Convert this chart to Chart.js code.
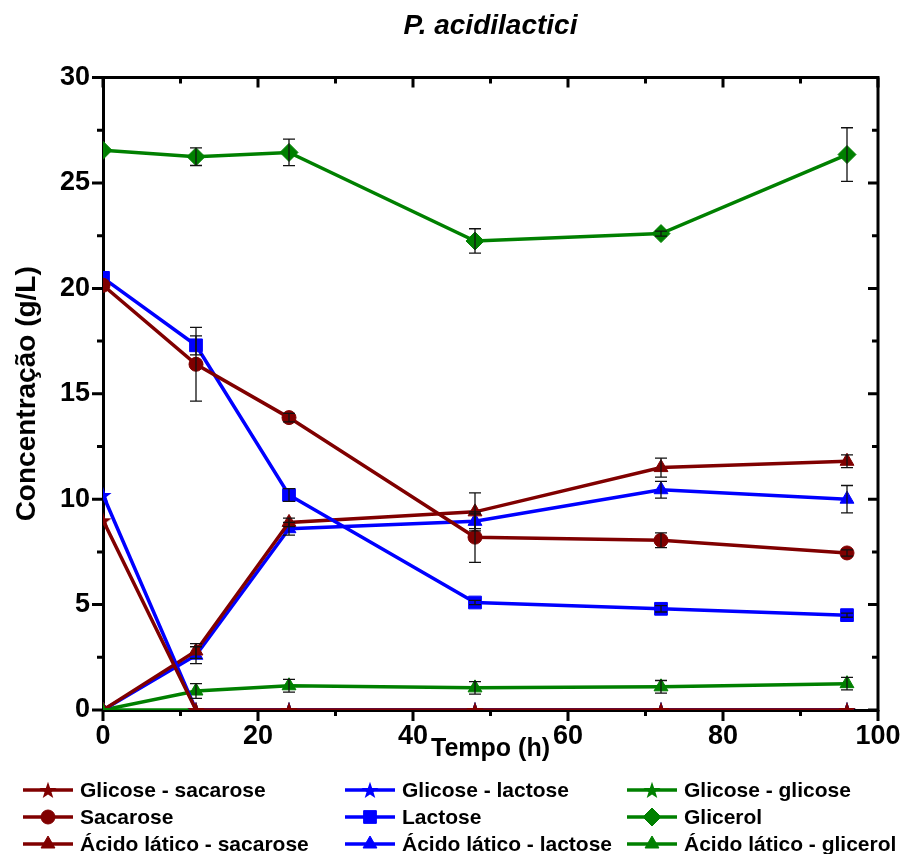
<!DOCTYPE html>
<html>
<head>
<meta charset="utf-8">
<script src="https://cdn.jsdelivr.net/npm/chart.js@4.4.1/dist/chart.umd.min.js"></script>
<style>
  body { margin: 0; background: #fff; }
  #wrap { width: 901px; height: 854px; }
</style>
</head>
<body>
<div id="wrap"><canvas id="chart"></canvas></div>
<script>
// time points (h)
const times = [0, 12, 24, 48, 72, 96];

// concentrations (g/L) and their error bars
const glicoseSacarose = [9.0, 0, 0, 0, 0, 0];
const glicoseLactose = [10.2, 0, 0, 0, 0, 0];
const glicoseGlicose = [0, 0, 0, 0, 0, 0];
const sacarose = [20.15, 16.4, 13.87, 8.2, 8.05, 7.45];
const sacaroseErr = [0, 1.75, 0.2, 1.2, 0.35, 0.15];
const lactose = [20.5, 17.3, 10.2, 5.1, 4.8, 4.5];
const lactoseErr = [0, 0.45, 0.3, 0.1, 0.15, 0.1];
const glicerol = [26.55, 26.25, 26.45, 22.25, 22.6, 26.35];
const glicerolErr = [0, 0.42, 0.63, 0.58, 0.12, 1.27];
const acidoSacarose = [0, 2.8, 8.9, 9.4, 11.5, 11.8];
const acidoSacaroseErr = [0, 0.35, 0.2, 0.9, 0.45, 0.3];
const acidoLactose = [0, 2.6, 8.6, 8.95, 10.45, 10.0];
const acidoLactoseErr = [0, 0.4, 0.3, 0.35, 0.4, 0.65];
const acidoGlicerol = [0, 0.9, 1.15, 1.05, 1.1, 1.25];
const acidoGlicerolErr = [0, 0.35, 0.3, 0.3, 0.3, 0.3];

const RED = '#800000', BLUE = '#0000ff', GREEN = '#008000';
const FONT = "'Liberation Sans', Arial, sans-serif";

// filled 5 point star as a point image
function makeStar(color) {
    var c = document.createElement('canvas');
    c.width = 18; c.height = 18;
    var g = c.getContext('2d');
    g.fillStyle = color;
    g.beginPath();
    for (var i = 0; i < 10; i++) {
        var r = i % 2 ? 3.6 : 9;
        var a = -Math.PI / 2 + i * Math.PI / 5;
        g.lineTo(9 + r * Math.cos(a), 9.8 + r * Math.sin(a));
    }
    g.closePath();
    g.fill();
    return c;
}

function pts(arr) {
    return arr.map(function (v, i) { return { x: times[i], y: v }; });
}

function ds(label, values, errs, color, style, radius) {
    return {
        label: label,
        data: pts(values),
        errors: errs,
        borderColor: color,
        backgroundColor: color,
        borderWidth: 3.5,
        pointStyle: style,
        pointRadius: radius,
        pointHoverRadius: radius,
        pointBorderWidth: 1,
        tension: 0
    };
}

var datasets = [
    ds('Glicose - sacarose', glicoseSacarose, null, RED, makeStar(RED), 8),
    ds('Glicose - lactose', glicoseLactose, null, BLUE, makeStar(BLUE), 8),
    ds('Glicose - glicose', glicoseGlicose, null, GREEN, makeStar(GREEN), 8),
    ds('Sacarose', sacarose, sacaroseErr, RED, 'circle', 7),
    ds('Lactose', lactose, lactoseErr, BLUE, 'rect', 9),
    ds('Glicerol', glicerol, glicerolErr, GREEN, 'rectRot', 9),
    ds('Ácido lático - sacarose', acidoSacarose, acidoSacaroseErr, RED, 'triangle', 8),
    ds('Ácido lático - lactose', acidoLactose, acidoLactoseErr, BLUE, 'triangle', 8),
    ds('Ácido lático - glicerol', acidoGlicerol, acidoGlicerolErr, GREEN, 'triangle', 8)
];

// error bars on top of the markers
var errorBars = {
    id: 'errorBars',
    afterDatasetsDraw: function (chart) {
        var ctx = chart.ctx, ys = chart.scales.y;
        ctx.save();
        ctx.strokeStyle = '#111';
        ctx.lineWidth = 1.3;
        chart.data.datasets.forEach(function (d, i) {
            if (!d.errors) return;
            var meta = chart.getDatasetMeta(i);
            meta.data.forEach(function (p, j) {
                var e = d.errors[j];
                if (!e) return;
                var v = d.data[j].y;
                var top = ys.getPixelForValue(v + e), bot = ys.getPixelForValue(v - e);
                ctx.beginPath();
                ctx.moveTo(p.x, top); ctx.lineTo(p.x, bot);
                ctx.moveTo(p.x - 6, top); ctx.lineTo(p.x + 6, top);
                ctx.moveTo(p.x - 6, bot); ctx.lineTo(p.x + 6, bot);
                ctx.stroke();
            });
        });
        ctx.restore();
    }
};

// frame with major/minor ticks (out on bottom/left, in on top/right), plus the 3-column legend
var frameAndLegend = {
    id: 'frameAndLegend',
    afterDraw: function (chart) {
        var ctx = chart.ctx, a = chart.chartArea;
        var xs = chart.scales.x, ys = chart.scales.y;
        ctx.save();
        ctx.strokeStyle = '#000';
        ctx.lineWidth = 3;
        ctx.beginPath();
        ctx.moveTo(a.left - 1.5, a.top); ctx.lineTo(a.right, a.top); ctx.lineTo(a.right, a.bottom + 1.5);
        ctx.stroke();
        ctx.lineWidth = 3;
        ctx.beginPath();
        xs.ticks.forEach(function (t) {
            var px = xs.getPixelForValue(t.value);
            var major = t.value % 20 === 0;
            ctx.moveTo(px, a.top); ctx.lineTo(px, a.top + (major ? 10 : 6));
            ctx.moveTo(px, a.bottom); ctx.lineTo(px, a.bottom + (major ? 11 : 6));
        });
        ys.ticks.forEach(function (t) {
            var py = ys.getPixelForValue(t.value);
            var major = t.value % 5 === 0;
            ctx.moveTo(a.right, py); ctx.lineTo(a.right - (major ? 10 : 6), py);
            ctx.moveTo(a.left, py); ctx.lineTo(a.left - (major ? 11 : 6), py);
        });
        ctx.stroke();

        // legend
        var colX = [23, 345, 627], rowY = [790, 817, 844];
        ctx.font = 'bold 21px ' + FONT;
        ctx.textBaseline = 'middle';
        chart.data.datasets.forEach(function (d, i) {
            var x0 = colX[i % 3], y0 = rowY[Math.floor(i / 3)];
            ctx.strokeStyle = d.borderColor;
            ctx.fillStyle = d.backgroundColor;
            ctx.lineWidth = 3.5;
            ctx.beginPath();
            ctx.moveTo(x0, y0); ctx.lineTo(x0 + 50, y0);
            ctx.stroke();
            ctx.lineWidth = 1;
            Chart.helpers.drawPoint(ctx, {
                pointStyle: d.pointStyle,
                radius: d.pointRadius,
                rotation: 0,
                borderWidth: 1
            }, x0 + 25, y0);
            ctx.fillStyle = '#000';
            ctx.fillText(d.label, x0 + 57, y0 + 1);
        });
        ctx.restore();
    }
};

new Chart(document.getElementById('chart'), {
    type: 'line',
    data: { datasets: datasets },
    plugins: [errorBars, frameAndLegend],
    options: {
        responsive: true,
        maintainAspectRatio: false,
        animation: false,
        layout: { padding: { left: 0, right: 23, top: 0, bottom: 84 } },
        plugins: {
            legend: { display: false },
            tooltip: { enabled: false },
            title: {
                display: true,
                fullSize: false,
                text: 'P. acidilactici',
                color: '#000',
                font: { family: FONT, size: 28, weight: 'bold', style: 'italic' },
                padding: { top: 9, bottom: 35 }
            }
        },
        scales: {
            x: {
                type: 'linear',
                min: 0, max: 100,
                afterFit: function (s) { s.height = 60; },
                border: { display: true, color: '#000', width: 3 },
                grid: { drawOnChartArea: false, tickLength: 10, tickColor: 'rgba(0,0,0,0)' },
                ticks: {
                    stepSize: 10,
                    autoSkip: false,
                    maxRotation: 0,
                    padding: 0,
                    color: '#000',
                    font: { family: FONT, size: 27, weight: 'bold' },
                    callback: function (v) { return v % 20 === 0 ? v : ''; }
                },
                title: {
                    display: true,
                    text: 'Tempo (h)',
                    color: '#000',
                    font: { family: FONT, size: 25, weight: 'bold' },
                    padding: { top: 0, bottom: 6 }
                }
            },
            y: {
                min: 0, max: 30,
                afterFit: function (s) { s.width = 103; },
                border: { display: true, color: '#000', width: 3 },
                grid: { drawOnChartArea: false, tickLength: 11, tickColor: 'rgba(0,0,0,0)' },
                ticks: {
                    stepSize: 2.5,
                    autoSkip: false,
                    padding: 2,
                    color: '#000',
                    font: { family: FONT, size: 27, weight: 'bold' },
                    callback: function (v) { return v % 5 === 0 ? v : ''; }
                },
                title: {
                    display: true,
                    text: 'Concentração (g/L)',
                    color: '#000',
                    font: { family: FONT, size: 28, weight: 'bold' },
                    padding: { top: 10, bottom: 0 }
                }
            }
        }
    }
});
</script>
</body>
</html>
